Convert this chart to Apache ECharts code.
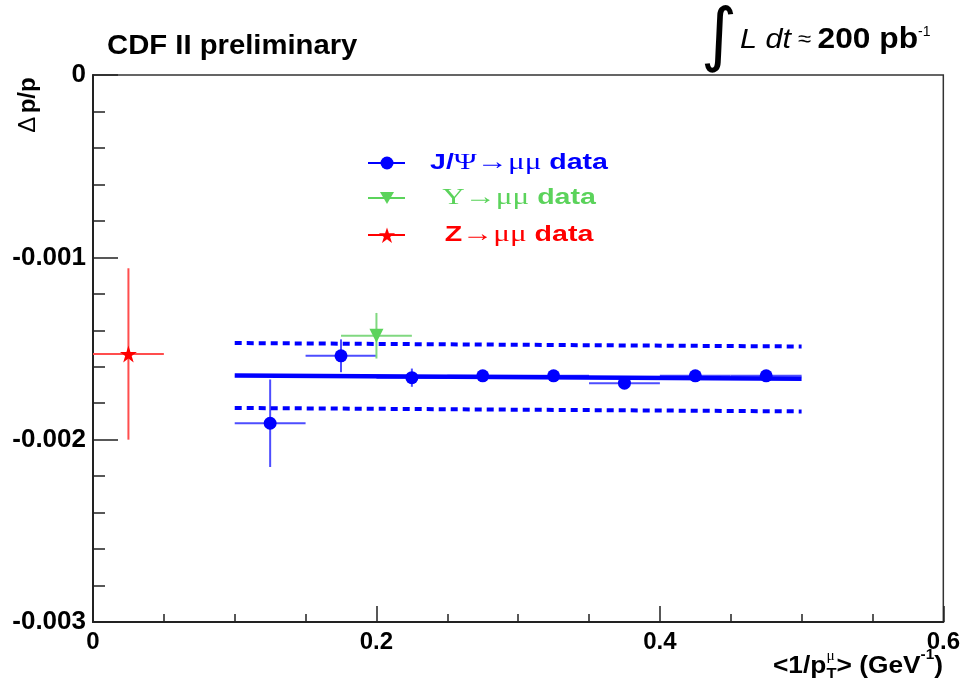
<!DOCTYPE html>
<html>
<head>
<meta charset="utf-8">
<script src="https://cdn.jsdelivr.net/npm/echarts/dist/echarts.min.js"></script>
<style>html,body{margin:0;padding:0;background:#fff;}#c{width:963px;height:680px;}</style>
</head>
<body>
<div id="c"></div>
<script>
// ---- data ----
const jpsiX    = [0.125, 0.175, 0.225, 0.275, 0.325, 0.375, 0.425, 0.475];
const jpsiY    = [-0.00191, -0.00154, -0.00166, -0.00165, -0.00165, -0.00169, -0.00165, -0.00165];
const jpsiXErr = [0.025, 0.025, 0.025, 0.025, 0.025, 0.025, 0.025, 0.025];
const jpsiYErr = [0.00024, 0.00009, 0.00005, 0.00003, 0.00003, 0.00003, 0.00003, 0.00003];

const upsX    = [0.2];
const upsY    = [-0.00143];
const upsXErr = [0.025];
const upsYErr = [0.000125];

const zX    = [0.025];
const zY    = [-0.00153];
const zXErr = [0.025];
const zYErr = [0.00047];

const fitX     = [0.1, 0.5];
const fitY     = [-0.001648, -0.001666];
const fitUpper = [-0.00147, -0.001489];
const fitLower = [-0.001826, -0.001845];

const xTicks = [0, 0.2, 0.4, 0.6];
const yTicks = [-0.003, -0.002, -0.001, 0];

const legendLabels = ['J/Ψ→μμ data', 'Υ→μμ data', 'Z→μμ data'];

// ---- helpers ----
const BLUE = '#0000ff', GREEN = '#5bd35b', RED = '#ff0000';
const STAR = 'path://M50 0L61.2 34.5L97.6 34.5L68.2 55.9L79.4 90.5L50 69.1L20.6 90.5L31.8 55.9L2.4 34.5L38.8 34.5Z';
const SANS = '"Liberation Sans", Arial, Helvetica, sans-serif';
const SERIF = '"Liberation Serif", "DejaVu Serif", serif';

function zip(xs, ys, xe, ye) {
  return xs.map((x, i) => xe ? [x, ys[i], xe[i], ye[i]] : [x, ys[i]]);
}

function errSeries(name, data, color) {
  return {
    type: 'custom', name: name, z: 2, silent: true,
    data: data,
    encode: { x: 0, y: 1 },
    renderItem: function (params, api) {
      const x = api.value(0), y = api.value(1), xe = api.value(2), ye = api.value(3);
      const l = api.coord([x - xe, y]), r = api.coord([x + xe, y]);
      const t = api.coord([x, y + ye]), b = api.coord([x, y - ye]);
      return {
        type: 'group', children: [
          { type: 'line', shape: { x1: l[0], y1: l[1], x2: r[0], y2: r[1] }, style: { stroke: color, lineWidth: 2 } },
          { type: 'line', shape: { x1: t[0], y1: t[1], x2: b[0], y2: b[1] }, style: { stroke: color, lineWidth: 2 } }
        ]
      };
    }
  };
}

const ctx = document.createElement('canvas').getContext('2d');
function fontStr(p) {
  return (p.style || 'normal') + ' ' + (p.weight || 'normal') + ' ' + p.size + 'px ' + (p.family || SANS);
}
function measure(p) { ctx.font = fontStr(p); return ctx.measureText(p.t).width; }
function runWidth(pieces) { return pieces.reduce((s, p) => s + (p.stack ? 0 : measure(p)), 0); }

function textEl(x, y, text, font, color, align, sx) {
  return {
    type: 'text', x: x, y: y, silent: true, scaleX: sx || 1,
    style: { text: text, fill: color || '#000', font: font, align: align || 'left', verticalAlign: 'middle' }
  };
}

// pieces laid out left-to-right; piece.stack = true means it doesn't advance
function textRun(x0, y, pieces, alignRight, sx) {
  sx = sx || 1;
  const widths = pieces.map(p => measure(p) * sx);
  let total = 0;
  pieces.forEach((p, i) => { if (!p.stack) total += widths[i]; });
  let x = alignRight ? x0 - total : x0;
  const els = [];
  pieces.forEach((p, i) => {
    els.push(textEl(x, y + (p.dy || 0), p.t, fontStr(p), p.color, 'left', sx));
    if (!p.stack) x += widths[i];
  });
  return els;
}

function starPoints(cx, cy, R) {
  const pts = [];
  for (let k = 0; k < 10; k++) {
    const r = k % 2 === 0 ? R : R * 0.382;
    const a = -Math.PI / 2 + k * Math.PI / 5;
    pts.push([cx + r * Math.cos(a), cy + r * Math.sin(a)]);
  }
  return pts;
}

// ---- graphics (titles, labels, legend) ----
const graphics = [];
graphics.push(textEl(107, 46, 'CDF II preliminary', 'bold 28px ' + SANS, '#000', 'left', 1.045));
// integral annotation
graphics.push(textEl(719, 40, '∫', 'normal 70px "DejaVu Sans", sans-serif', '#000', 'center'));
const lumPieces = [
  { t: 'L', size: 28, style: 'italic' },
  { t: ' dt', size: 28, style: 'italic' },
  { t: ' ≈ ', size: 22 },
  { t: '200 pb', size: 29, weight: 'bold' }
];
const lumSx = 178 / runWidth(lumPieces);
textRun(740, 40, lumPieces, false, lumSx).forEach(e => graphics.push(e));
graphics.push(textEl(918, 32, '-1', 'normal 14px ' + SANS, '#000', 'left'));

// y axis name
graphics.push({
  type: 'text', x: 28, y: 105, rotation: Math.PI / 2, silent: true,
  style: {
    text: '{d|Δ} {p|p/p}', align: 'center', verticalAlign: 'middle',
    rich: {
      d: { font: 'normal 24px ' + SANS, fill: '#000' },
      p: { font: 'bold 24px ' + SANS, fill: '#000' }
    }
  }
});

// x axis name
const xnPieces = [
  { t: '<1/p', size: 24, weight: 'bold' },
  { t: 'μ', size: 14, family: SERIF, dy: -10, stack: true },
  { t: 'T', size: 15, weight: 'bold', dy: 8 },
  { t: '> (GeV', size: 24, weight: 'bold' },
  { t: '-1', size: 14, weight: 'bold', dy: -11 },
  { t: ')', size: 24, weight: 'bold' }
];
const xnSx = 170 / runWidth(xnPieces);
textRun(943, 666, xnPieces, true, xnSx).forEach(e => graphics.push(e));

// legend
const legendRows = [
  { y: 163, color: BLUE, sym: 'circle', parts: [['J/', 'b'], ['Ψ→μμ', 's'], [' data', 'b']] },
  { y: 198, color: GREEN, sym: 'tri', parts: [['Υ→μμ', 's'], [' data', 'b']] },
  { y: 235, color: RED, sym: 'star', parts: [['Z', 'b'], ['→μμ', 's'], [' data', 'b']] }
];
function legendPieces(row) {
  return row.parts.map(p => p[1] === 'b'
    ? { t: p[0], size: 22, weight: 'bold', color: row.color }
    : { t: p[0], size: 24, family: SERIF, color: row.color });
}
const legSx = 178 / runWidth(legendPieces(legendRows[0]));
legendRows.forEach((row) => {
  graphics.push({ type: 'line', silent: true, shape: { x1: 368, y1: row.y, x2: 405, y2: row.y }, style: { stroke: row.color, lineWidth: 2 } });
  if (row.sym === 'circle') {
    graphics.push({ type: 'circle', silent: true, shape: { cx: 387, cy: row.y, r: 6.5 }, style: { fill: row.color } });
  } else if (row.sym === 'tri') {
    graphics.push({ type: 'polygon', silent: true, shape: { points: [[380, row.y - 6], [394, row.y - 6], [387, row.y + 6]] }, style: { fill: row.color } });
  } else {
    graphics.push({ type: 'polygon', silent: true, shape: { points: starPoints(387, row.y + 1, 8.5) }, style: { fill: row.color } });
  }
  const pieces = legendPieces(row);
  const w = runWidth(pieces) * legSx;
  textRun(519 - w / 2, row.y, pieces, false, legSx).forEach(e => graphics.push(e));
});

// ---- chart ----
const chart = echarts.init(document.getElementById('c'), null, { renderer: 'canvas' });
const option = {
  backgroundColor: '#fff',
  animation: false,
  grid: { left: 93, right: 17.5, top: 75, bottom: 58, show: true, borderColor: '#333', borderWidth: 1.5, backgroundColor: 'transparent' },
  xAxis: {
    type: 'value', min: xTicks[0], max: xTicks[xTicks.length - 1], interval: 0.2,
    axisLine: { onZero: false, lineStyle: { color: '#222', width: 2 } },
    axisTick: { inside: true, length: 16, lineStyle: { color: '#222', width: 1.5 } },
    minorTick: { show: true, splitNumber: 4, length: 8, lineStyle: { color: '#222', width: 1.5 } },
    splitLine: { show: false },
    axisLabel: {
      color: '#000', fontSize: 24, fontWeight: 'bold', fontFamily: SANS, margin: 8,
      formatter: v => (v === 0 ? '0' : String(+v.toFixed(1)))
    }
  },
  yAxis: {
    type: 'value', min: yTicks[0], max: yTicks[yTicks.length - 1], interval: 0.001,
    axisLine: { onZero: false, lineStyle: { color: '#222', width: 2 } },
    axisTick: { inside: true, length: 25, lineStyle: { color: '#222', width: 1.5 } },
    minorTick: { show: true, splitNumber: 5, length: 12, lineStyle: { color: '#222', width: 1.5 } },
    splitLine: { show: false },
    axisLabel: {
      color: '#000', fontSize: 26, fontWeight: 'bold', fontFamily: SANS, margin: 7,
      formatter: v => (Math.abs(v) < 1e-12 ? '0' : v.toFixed(3))
    }
  },
  series: [
    { type: 'line', name: 'fit', data: zip(fitX, fitY), showSymbol: false, symbol: 'none', z: 3, silent: true,
      lineStyle: { color: BLUE, width: 4.5 } },
    { type: 'line', name: 'fitUp', data: zip(fitX, fitUpper), showSymbol: false, symbol: 'none', z: 3, silent: true,
      lineStyle: { color: BLUE, width: 4, type: [7, 5] } },
    { type: 'line', name: 'fitLo', data: zip(fitX, fitLower), showSymbol: false, symbol: 'none', z: 3, silent: true,
      lineStyle: { color: BLUE, width: 4, type: [7, 5] } },
    errSeries('jpsiErr', zip(jpsiX, jpsiY, jpsiXErr, jpsiYErr), '#4d4dff'),
    errSeries('upsErr', zip(upsX, upsY, upsXErr, upsYErr), '#80d880'),
    errSeries('zErr', zip(zX, zY, zXErr, zYErr), '#ff4d4d'),
    { type: 'scatter', name: legendLabels[0], data: zip(jpsiX, jpsiY), symbol: 'circle', symbolSize: 13, z: 5, silent: true,
      itemStyle: { color: BLUE, opacity: 1 } },
    { type: 'scatter', name: legendLabels[1], data: zip(upsX, upsY), symbol: 'triangle', symbolRotate: 180, symbolSize: 14, z: 5, silent: true,
      itemStyle: { color: GREEN, opacity: 1 } },
    { type: 'scatter', name: legendLabels[2], data: zip(zX, zY), symbol: STAR, symbolSize: 17, z: 5, silent: true,
      itemStyle: { color: RED, opacity: 1 } }
  ],
  graphic: { elements: graphics }
};
chart.setOption(option);
</script>
</body>
</html>
